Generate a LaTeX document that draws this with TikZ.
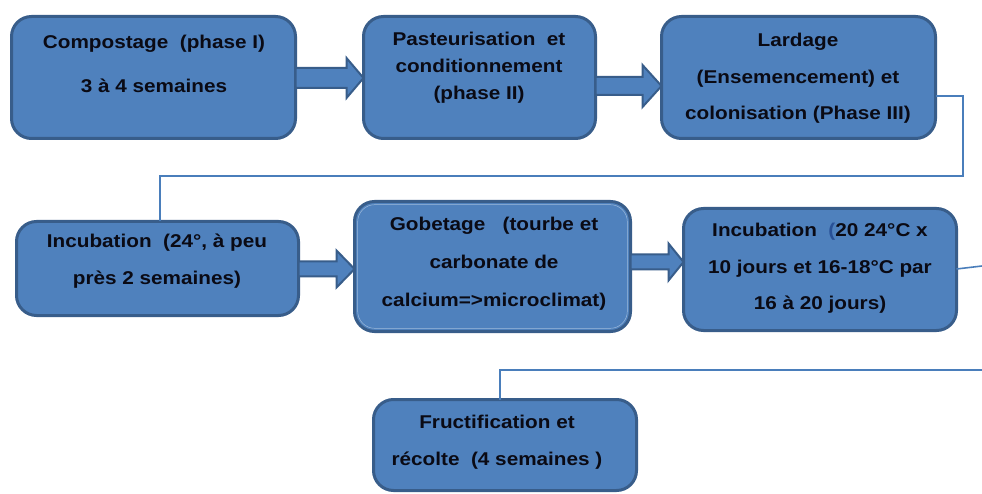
\documentclass[tikz,border=0pt]{standalone}
\usepackage{fontspec}
\setmainfont{Liberation Sans}
\newfontfamily\lblfont[FakeStretch=1.12]{Liberation Sans}
\usetikzlibrary{calc}
\definecolor{boxfill}{RGB}{79,129,189}
\definecolor{boxline}{RGB}{56,93,138}
\definecolor{connc}{RGB}{74,126,187}
\definecolor{txtc}{RGB}{10,10,20}
\definecolor{parcol}{RGB}{40,80,150}
\newcommand\blockarr[5]{%
  \draw[barrow] ($(#1)+(0,-#3)$) -- ($(#2)+(-#5,-#3)$) -- ($(#2)+(-#5,-#4)$) -- (#2)
    -- ($(#2)+(-#5,#4)$) -- ($(#2)+(-#5,#3)$) -- ($(#1)+(0,#3)$) -- cycle;}
\begin{document}
\begin{tikzpicture}[x=1pt,y=-1pt,
  box/.style={draw=boxline, fill=boxfill, line width=3pt, rounded corners=20pt, inner sep=0pt, outer sep=0pt},
  lbl/.style={text=txtc, align=center, inner sep=0pt, font=\lblfont\bfseries\fontsize{18.5}{#1}\selectfont},
  barrow/.style={draw=boxline, fill=boxfill, line width=2pt, line join=miter},
  conn/.style={draw=connc, line width=1.6pt}]
\useasboundingbox[fill=white] (0,0) rectangle (982,494);

% helper coordinates
\coordinate (y78) at (0,78);
\coordinate (y86) at (0,86);
\coordinate (y269) at (0,269);
\coordinate (y262) at (0,262);
\coordinate (y96) at (0,96);
\coordinate (x160) at (160,0);
\coordinate (x500) at (500,0);
\coordinate (k1) at (963,176);
\coordinate (e1) at (982,266);
\coordinate (e2) at (982,370);

% boxes
\node[box, minimum width=284, minimum height=122] (b1) at (153.5,77.5) {};
\node[box, minimum width=232, minimum height=122] (b2) at (479.5,77.5) {};
\node[box, minimum width=274, minimum height=122] (b3) at (798.5,77.5) {};
\node[box, minimum width=282, minimum height=94] (b4) at (157.5,268.5) {};
\node[box, minimum width=276, minimum height=130] (b5) at (492.5,266.5) {};
\draw[white!45!boxfill, line width=0.5pt, rounded corners=17pt]
  ($(b5.south west)+(3.2,-3.2)$) rectangle ($(b5.north east)+(-3.2,3.2)$);
\node[box, minimum width=273, minimum height=122] (b6) at (820,269.5) {};
\node[box, minimum width=263, minimum height=91] (b7) at (505,445) {};

% connectors
\draw[conn] (b3.east |- y96) -| (k1) -| (b4.north -| x160);
\draw[conn] (b6.east |- y269) -- (e1);
\draw[conn] (e2) -| (b7.north -| x500);

% block arrows
\blockarr{b1.east |- y78}{b2.west |- y78}{10}{20}{17}
\blockarr{b2.east |- y86}{b3.west |- y86}{9}{21}{19}
\blockarr{b4.east |- y269}{b5.west |- y269}{7.5}{18.5}{18}
\blockarr{b5.east |- y262}{b6.west |- y262}{7.5}{18.5}{15}

% texts
\node[lbl=44] (t1) at (154,64) {Compostage\ \ (phase I)\\3 à 4 semaines};
\node[lbl=27] (t2) at (479,67.5) {Pasteurisation\ \ et\\conditionnement\\(phase II)};
\node[lbl=36.5] (t3) at (798,78.5) {Lardage\\(Ensemencement) et\\colonisation (Phase III)};
\node[lbl=37] (t4) at (157,261.5) {Incubation\ \ (24°, à peu\\près 2 semaines)};
\node[lbl=38] (t5) at (494,264) {Gobetage\ \ \ (tourbe et\\carbonate de\\calcium=>microclimat)};
\node[lbl=36.5] (t6) at (820,268.5) {Incubation\ \ {\color{parcol}(}20 24°C x\\10 jours et 16-18°C par\\16 à 20 jours)};
\node[lbl=37] (t7) at (497,442.5) {Fructification et\\récolte\ \ (4 semaines )};
\end{tikzpicture}
\end{document}
